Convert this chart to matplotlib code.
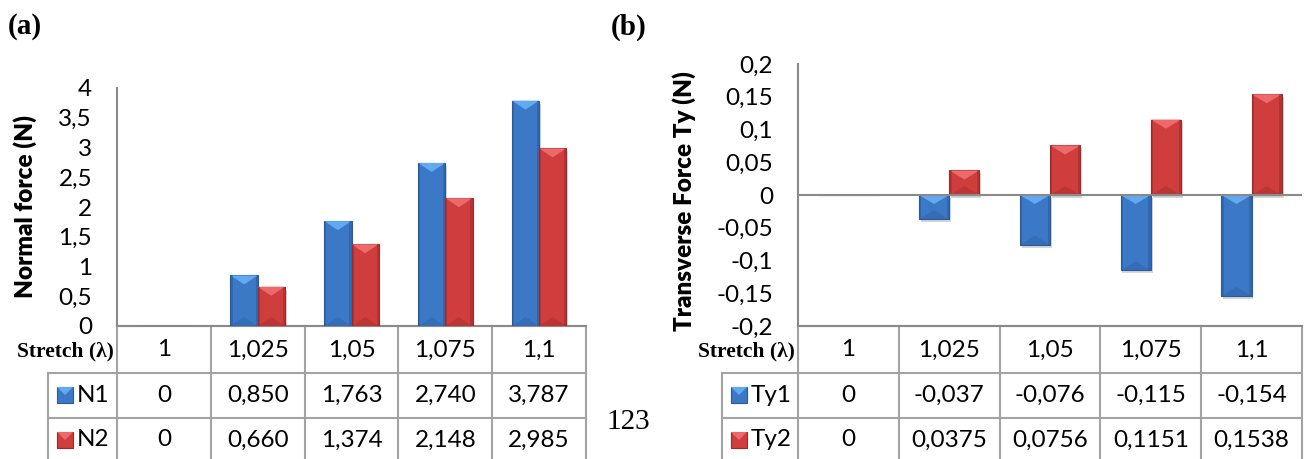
import numpy as np
import matplotlib
matplotlib.use("Agg")
import matplotlib.pyplot as plt
from matplotlib.patches import Polygon, Rectangle

plt.rcParams['font.family'] = ['Lato', 'DejaVu Sans']

# 資料
stretch = [1, 1.025, 1.05, 1.075, 1.1]
N1 = [0, 0.850, 1.763, 2.740, 3.787]
N2 = [0, 0.660, 1.374, 2.148, 2.985]
Ty1 = [0, -0.037, -0.076, -0.115, -0.154]
Ty2 = [0, 0.0375, 0.0756, 0.1151, 0.1538]

W, H = 1313, 459
BLUE = dict(face='#3b78c6', light='#63a9f0', dark='#2a5a9c')
RED = dict(face='#cf3d3d', light='#ee6a6a', dark='#9c2a2a')
GRID = '#a3a3a3'
AXC = '#8a8a8a'
FS = 17.5

fig = plt.figure(figsize=(W / 100, H / 100), dpi=100)


def px_axes(l, t, r, b, **kw):
    return fig.add_axes([l / W, 1 - b / H, (r - l) / W, (b - t) / H], **kw)


def comma(v, dec=None):
    if v == 0:
        return '0'
    s = f'{v:.{dec}f}' if dec is not None else f'{v:g}'
    return s.replace('.', ',')


def bevel_bars(ax, xs, vals, width, st, ax_px_h):
    lo, hi = ax.get_ylim()
    d = 9 * (hi - lo) / ax_px_h
    bars = ax.bar(xs, vals, width, color=st['face'], edgecolor=st['dark'],
                  linewidth=0.8, zorder=3)
    for b in bars:
        h = b.get_height()
        if h == 0:
            continue
        x0, w = b.get_x(), b.get_width()
        top, bot = max(b.get_y(), b.get_y() + h), min(b.get_y(), b.get_y() + h)
        dd = min(d, (top - bot) / 2)
        # 陰影
        sh = 3 * (hi - lo) / ax_px_h
        ax.add_patch(Rectangle((x0 + w * 0.06, bot - sh), w, top - bot, color='#d6d6d6',
                               zorder=2, lw=0))
        ax.add_patch(Polygon([(x0, top), (x0 + w, top), (x0 + w / 2, top - dd)],
                             closed=True, color=st['light'], zorder=4, lw=0))
        ax.add_patch(Polygon([(x0, bot), (x0 + w, bot), (x0 + w / 2, bot + dd)],
                             closed=True, color=st['dark'], alpha=0.35, zorder=4, lw=0))
        ax.add_patch(Rectangle((x0, bot), w * 0.08, top - bot, color=st['dark'],
                               alpha=0.5, zorder=4, lw=0))
        ax.add_patch(Rectangle((x0 + w * 0.92, bot), w * 0.08, top - bot, color=st['dark'],
                               alpha=0.5, zorder=4, lw=0))


def style_axes(ax, ticks, ylim):
    ax.set_xlim(-0.5, len(stretch) - 0.5)
    ax.set_ylim(*ylim)
    ax.set_yticks(ticks)
    ax.set_yticklabels([comma(round(t, 3)) for t in ticks], fontsize=FS)
    ax.set_xticks([])
    ax.tick_params(axis='y', length=0, pad=18)
    for s in ['top', 'right']:
        ax.spines[s].set_visible(False)
    for s in ['left', 'bottom']:
        ax.spines[s].set_color(AXC)
        ax.spines[s].set_linewidth(1.5)
    ax.patch.set_alpha(0)


ov = fig.add_axes([0, 0, 1, 1], zorder=-1)
ov.set_xlim(0, W)
ov.set_ylim(H, 0)
ov.axis('off')


def icon(x, y, st):
    ov.add_patch(Rectangle((x, y - 8), 16, 16, color=st['face'], lw=0.8, ec=st['dark']))
    ov.add_patch(Polygon([(x, y - 8), (x + 16, y - 8), (x + 8, y)], closed=True,
                         color=st['light'], lw=0))


def draw_table(left, right, leg_left, names, rows, decs, styles):
    n = len(stretch)
    cw = (right - left) / n
    top, r1, r2 = 326, 373, 418
    ov.plot([left, right], [top, top], color=GRID, lw=1.5)
    for i in range(n + 1):
        ov.plot([left + i * cw] * 2, [top, H], color=GRID, lw=1.5)
    ov.plot([leg_left, right], [r1, r1], color=GRID, lw=1.5)
    ov.plot([leg_left, right], [r2, r2], color=GRID, lw=1.5)
    ov.plot([leg_left, leg_left], [r1, H], color=GRID, lw=1.5)
    ov.text(left - 3, 351, 'Stretch (λ)', ha='right', va='center', fontsize=15.5,
            fontweight='bold', family=['Liberation Serif', 'DejaVu Serif'])
    for i, s in enumerate(stretch):
        ov.text(left + (i + 0.5) * cw, 350, comma(s), ha='center', va='center', fontsize=FS)
    for name, vals, dec, st, yc in zip(names, rows, decs, styles, [395, 440]):
        icon(leg_left + 9, yc, st)
        ov.text(leg_left + 29, yc, name, ha='left', va='center', fontsize=FS)
        for i, v in enumerate(vals):
            ov.text(left + (i + 0.5) * cw, yc, comma(v, dec), ha='center', va='center',
                    fontsize=FS)


x = np.arange(len(stretch))

# (a) Normal force
axA = px_axes(117, 88, 586, 326)
style_axes(axA, np.arange(0, 4.01, 0.5), (0, 4))
bevel_bars(axA, x - 0.145, N1, 0.29, BLUE, 238)
bevel_bars(axA, x + 0.145, N2, 0.29, RED, 238)
draw_table(117, 586, 48, ['N1', 'N2'], [N1, N2], [3, 3], [BLUE, RED])

# (b) Transverse force
axB = px_axes(798, 64, 1302, 326)
style_axes(axB, np.round(np.arange(-0.2, 0.201, 0.05), 2), (-0.2, 0.2))
axB.axhline(0, color=AXC, lw=1.5, zorder=5)
bevel_bars(axB, x - 0.15, Ty1, 0.3, BLUE, 262)
bevel_bars(axB, x + 0.15, Ty2, 0.3, RED, 262)
draw_table(798, 1302, 722, ['Ty1', 'Ty2'], [Ty1, Ty2], [3, 4], [BLUE, RED])

fig.text(25 / W, 1 - 206 / H, 'Normal force (N)', rotation=90, ha='center', va='center',
         fontsize=17.5, fontweight='heavy')
fig.text(684 / W, 1 - 201 / H, 'Transverse Force Ty (N)', rotation=90, ha='center',
         va='center', fontsize=17.5, fontweight='heavy')

serif = ['Liberation Serif', 'DejaVu Serif']
fig.text(25 / W, 1 - 26 / H, '(a)', ha='center', va='center', fontsize=21,
         fontweight='bold', family=serif)
fig.text(629 / W, 1 - 27 / H, '(b)', ha='center', va='center', fontsize=21,
         fontweight='bold', family=serif)
fig.text(628 / W, 1 - 422 / H, '123', ha='center', va='center', fontsize=21, family=serif)

fig.savefig('out.png', dpi=100)
